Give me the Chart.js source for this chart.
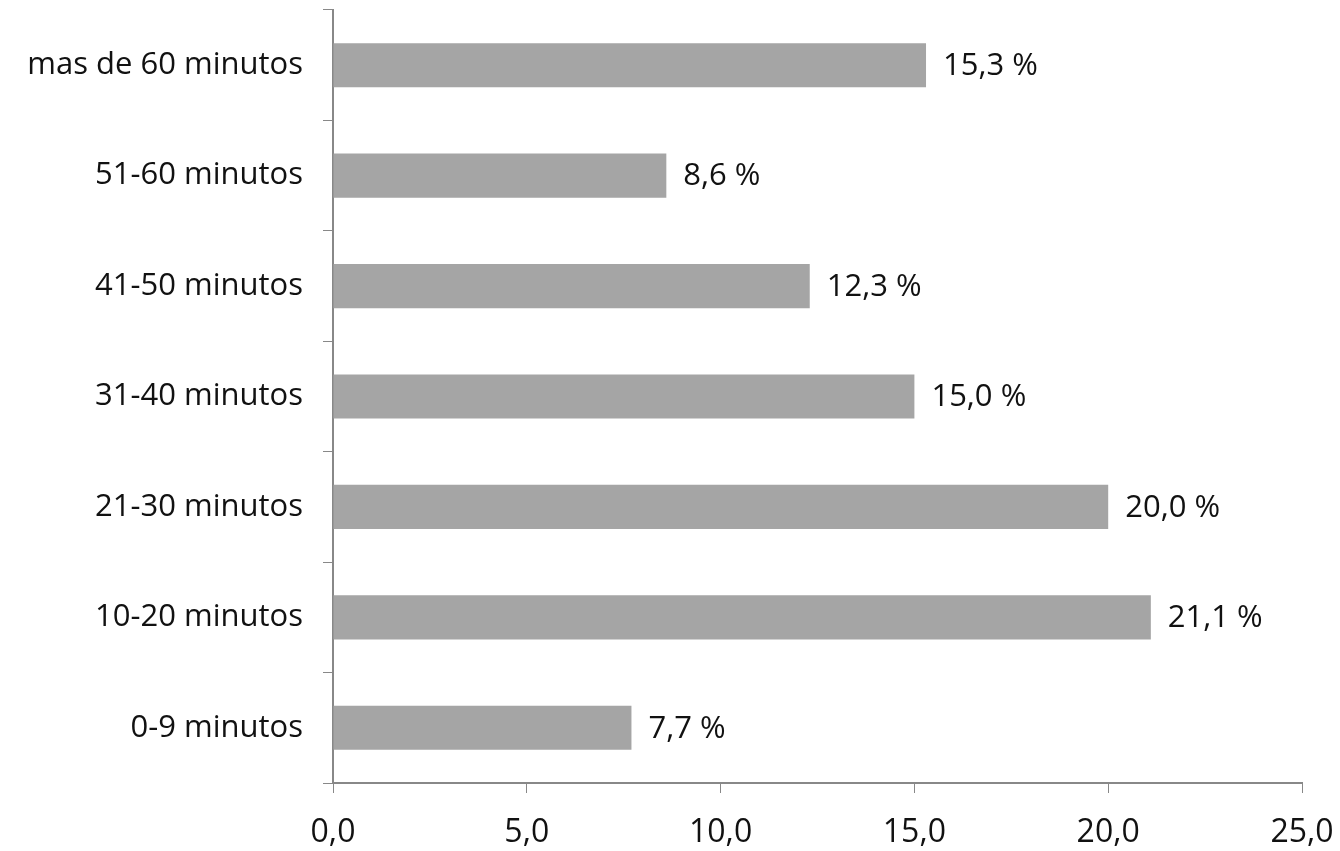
<!DOCTYPE html>
<html>
<head>
<meta charset="utf-8">
<script src="https://cdn.jsdelivr.net/npm/chart.js@4"></script>
<style>
  html, body { margin: 0; padding: 0; background: #fff; }
  #box { width: 1340px; height: 851px; }
</style>
</head>
<body>
<div id="box"><canvas id="grafico"></canvas></div>
<script>
// categorias de tiempo (de arriba a abajo como en la imagen)
var categorias = ['mas de 60 minutos', '51-60 minutos', '41-50 minutos', '31-40 minutos', '21-30 minutos', '10-20 minutos', '0-9 minutos'];
var porcentajes = [15.3, 8.6, 12.3, 15.0, 20.0, 21.1, 7.7];
var ticksX = [0, 5, 10, 15, 20, 25];

var fuente = "'Open Sans', 'DejaVu Sans', sans-serif";

// etiquetas de valor al final de cada barra
var etiquetasBarras = {
    id: 'etiquetasBarras',
    afterDatasetsDraw: function(chart) {
        var ctx = chart.ctx;
        var meta = chart.getDatasetMeta(0);
        ctx.save();
        ctx.font = '31px ' + fuente;
        ctx.fillStyle = '#111';
        ctx.textAlign = 'left';
        ctx.textBaseline = 'middle';
        meta.data.forEach(function(barra, i) {
            var txt = porcentajes[i].toFixed(1).replace('.', ',') + ' %';
            ctx.fillText(txt, barra.x + 17, barra.y + 1);
        });
        ctx.restore();
    }
};

var contexto = document.getElementById('grafico').getContext('2d');
var grafico = new Chart(contexto, {
    type: 'bar',
    data: {
        labels: categorias,
        datasets: [{
            data: porcentajes,
            backgroundColor: '#a5a5a5',
            borderWidth: 0,
            categoryPercentage: 1,
            barPercentage: 0.4
        }]
    },
    options: {
        indexAxis: 'y',
        responsive: true,
        maintainAspectRatio: false,
        animation: false,
        layout: { padding: { top: 10, right: 38, left: 0, bottom: 0 } },
        plugins: {
            legend: { display: false },
            tooltip: { enabled: false }
        },
        scales: {
            x: {
                min: 0,
                max: 25,
                afterBuildTicks: function(scale) {
                    scale.ticks = ticksX.map(function(v) { return { value: v }; });
                },
                afterFit: function(scale) {
                    scale.height = 68;
                    scale.paddingLeft = 0;
                    scale.paddingRight = 0;
                },
                grid: {
                    drawOnChartArea: false,
                    tickLength: 10,
                    color: '#888'
                },
                border: { color: '#888', width: 2 },
                ticks: {
                    color: '#111',
                    padding: 21,
                    font: { family: fuente, size: 32 },
                    callback: function(v) { return v.toFixed(1).replace('.', ','); }
                }
            },
            y: {
                afterFit: function(scale) {
                    scale.width = 333;
                    scale.paddingTop = 0;
                    scale.paddingBottom = 0;
                },
                grid: {
                    drawOnChartArea: false,
                    tickLength: 10,
                    offset: true,
                    color: '#888'
                },
                border: { color: '#888', width: 2 },
                ticks: {
                    color: '#111',
                    padding: 20,
                    font: { family: fuente, size: 31 }
                }
            }
        }
    },
    plugins: [etiquetasBarras]
});
</script>
</body>
</html>
